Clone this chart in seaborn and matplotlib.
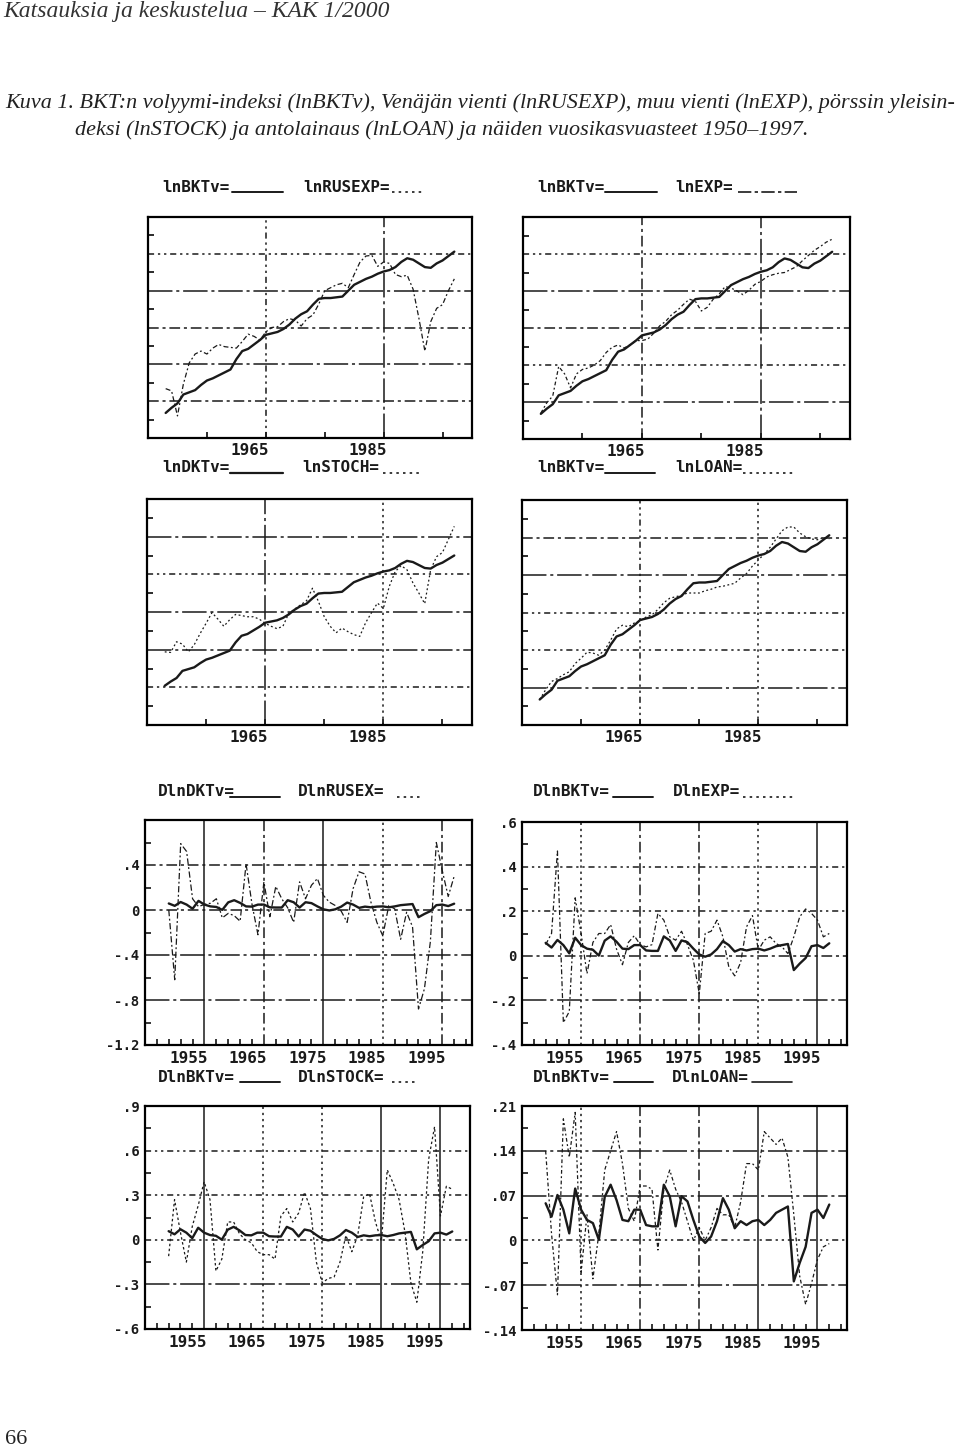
import matplotlib
matplotlib.use("Agg")
import matplotlib.pyplot as plt
import matplotlib.transforms as mtrans
from matplotlib.lines import Line2D
import numpy as np
import seaborn as sns

sns.set_theme(style="white")
plt.rcParams['font.family'] = ['DejaVu Sans']

# ---------------- data ----------------
years_lvl = list(range(1948, 1998))
years_gr = list(range(1949, 1998))

lnBKTv = [2.34, 2.41, 2.47, 2.59, 2.62, 2.65, 2.72, 2.78, 2.81, 2.85,
          2.89, 2.93, 3.07, 3.18, 3.21, 3.27, 3.33, 3.40, 3.42, 3.44,
          3.48, 3.54, 3.62, 3.68, 3.72, 3.81, 3.89, 3.90, 3.90, 3.91,
          3.92, 4.00, 4.08, 4.12, 4.16, 4.19, 4.23, 4.26, 4.28, 4.32,
          4.39, 4.44, 4.42, 4.37, 4.32, 4.31, 4.37, 4.41, 4.47, 4.53]
lnRUSEXP = [2.67, 2.64, 2.30, 2.73, 3.02, 3.14, 3.18, 3.14, 3.22, 3.27,
            3.24, 3.23, 3.22, 3.31, 3.41, 3.38, 3.33, 3.44, 3.50, 3.51,
            3.58, 3.62, 3.60, 3.52, 3.62, 3.67, 3.82, 4.00, 4.04, 4.08,
            4.10, 4.04, 4.22, 4.39, 4.47, 4.48, 4.33, 4.39, 4.37, 4.22,
            4.19, 4.21, 4.02, 3.62, 3.18, 3.58, 3.76, 3.81, 4.00, 4.16]
lnEXP = [2.35, 2.49, 2.58, 2.98, 2.88, 2.69, 2.88, 2.94, 2.96, 3.00,
         3.06, 3.17, 3.24, 3.27, 3.23, 3.27, 3.33, 3.33, 3.35, 3.43,
         3.53, 3.59, 3.68, 3.74, 3.82, 3.89, 3.86, 3.73, 3.78, 3.89,
         3.96, 4.06, 4.04, 4.00, 3.95, 4.01, 4.09, 4.13, 4.19, 4.22,
         4.24, 4.25, 4.29, 4.33, 4.41, 4.48, 4.55, 4.60, 4.66, 4.70]
lnSTOCK = [2.91, 2.90, 3.08, 3.04, 2.91, 3.03, 3.22, 3.39, 3.57, 3.46,
           3.34, 3.45, 3.54, 3.52, 3.50, 3.50, 3.46, 3.39, 3.34, 3.30,
           3.34, 3.56, 3.63, 3.70, 3.77, 3.98, 3.76, 3.50, 3.34, 3.23,
           3.31, 3.25, 3.20, 3.17, 3.40, 3.57, 3.73, 3.64, 4.01, 4.26,
           4.36, 4.29, 4.07, 3.90, 3.72, 4.29, 4.51, 4.58, 4.80, 5.02]
lnLOAN = [2.34, 2.47, 2.58, 2.62, 2.67, 2.71, 2.82, 2.89, 2.97, 2.96,
          2.93, 3.00, 3.13, 3.28, 3.33, 3.31, 3.36, 3.39, 3.44, 3.47,
          3.54, 3.63, 3.69, 3.71, 3.73, 3.76, 3.76, 3.76, 3.79, 3.81,
          3.84, 3.85, 3.87, 3.89, 3.96, 4.02, 4.12, 4.20, 4.28, 4.37,
          4.48, 4.59, 4.64, 4.64, 4.56, 4.51, 4.48, 4.47, 4.50, 4.48]

DlnBKTv = [0.058, 0.037, 0.071, 0.048, 0.011, 0.081, 0.048, 0.032, 0.027, 0.001,
           0.068, 0.087, 0.063, 0.032, 0.030, 0.048, 0.048, 0.024, 0.022, 0.022,
           0.087, 0.069, 0.022, 0.069, 0.061, 0.032, 0.006, -0.004, 0.006, 0.030,
           0.066, 0.048, 0.019, 0.030, 0.024, 0.030, 0.032, 0.024, 0.032, 0.043,
           0.048, 0.053, -0.064, -0.035, -0.010, 0.043, 0.048, 0.035, 0.056]
DlnRUSEX = [0.00, -0.62, 0.59, 0.52, 0.10, 0.03, 0.05, 0.06, 0.10, -0.07,
            -0.03, -0.05, -0.10, 0.41, 0.05, -0.22, 0.25, -0.06, 0.21, 0.10,
            0.02, -0.11, 0.25, 0.10, 0.22, 0.28, 0.13, 0.07, 0.04, -0.01,
            -0.11, 0.19, 0.34, 0.32, 0.07, -0.11, -0.23, 0.04, 0.01, -0.26,
            -0.02, -0.15, -0.88, -0.70, -0.28, 0.60, 0.35, 0.12, 0.30]
DlnEXP = [0.05, 0.10, 0.47, -0.30, -0.25, 0.26, 0.10, -0.08, 0.06, 0.10,
          0.10, 0.14, 0.03, -0.04, 0.06, 0.09, 0.05, 0.04, 0.05, 0.19,
          0.16, 0.085, 0.07, 0.11, 0.05, -0.02, -0.17, 0.10, 0.11, 0.16,
          0.085, -0.05, -0.09, -0.03, 0.13, 0.18, 0.025, 0.07, 0.085, 0.055,
          0.04, 0.01, 0.085, 0.175, 0.21, 0.19, 0.16, 0.085, 0.10]
DlnSTOCK = [-0.11, 0.27, 0.05, -0.15, 0.09, 0.23, 0.39, 0.27, -0.21, -0.13,
            0.12, 0.12, 0.04, 0.00, -0.02, -0.08, -0.10, -0.10, -0.13, 0.16,
            0.21, 0.12, 0.18, 0.32, 0.21, -0.15, -0.29, -0.26, -0.25, -0.15,
            0.03, -0.08, 0.03, 0.29, 0.31, 0.12, -0.01, 0.47, 0.38, 0.27,
            0.05, -0.29, -0.42, -0.08, 0.54, 0.76, 0.16, 0.36, 0.34]
DlnLOAN = [0.14, 0.01, -0.085, 0.19, 0.13, 0.20, -0.05, 0.04, -0.06, 0.01,
           0.11, 0.14, 0.17, 0.12, 0.05, 0.03, 0.085, 0.085, 0.08, -0.015,
           0.08, 0.11, 0.08, 0.06, 0.03, 0.00, 0.02, 0.00, 0.02, 0.05,
           0.04, 0.04, 0.02, 0.06, 0.12, 0.12, 0.11, 0.17, 0.16, 0.15,
           0.16, 0.13, 0.04, -0.056, -0.10, -0.067, -0.03, -0.01, -0.005]

# axis settings
ylim_p1, ylim_p2, ylim_p3, ylim_p4 = (2.0, 5.0), (2.0, 5.0), (1.68, 5.48), (2.0, 5.0)
yt_p5 = [-1.2, -0.8, -0.4, 0.0, 0.4];  ytl_p5 = ["-1.2", "-.8", "-.4", "0", ".4"]
yt_p6 = [-0.4, -0.2, 0.0, 0.2, 0.4, 0.6]; ytl_p6 = ["-.4", "-.2", "0", ".2", ".4", ".6"]
yt_p7 = [-0.6, -0.3, 0.0, 0.3, 0.6, 0.9]; ytl_p7 = ["-.6", "-.3", "0", ".3", ".6", ".9"]
yt_p8 = [-0.14, -0.07, 0.0, 0.07, 0.14, 0.21]; ytl_p8 = ["-.14", "-.07", "0", ".07", ".14", ".21"]
decades = [1955, 1965, 1975, 1985, 1995]

# ---------------- figure ----------------
W, H = 960, 1454
fig = plt.figure(figsize=(W / 100, H / 100), dpi=100)
fig.patch.set_facecolor('white')

MONO = ['DejaVu Sans Mono']
SERIF = ['Liberation Serif', 'DejaVu Serif']

DD = (0, (4, 2.5, 1.5, 2.5, 1.5, 2.5))   # dash-dot-dot
DL = (0, (16, 2.5, 2, 2.5))               # long dash-dot
DA = (0, (7, 2.5, 2, 2.5))                # dash-dot
DT = (0, (1.5, 2.5))                      # dotted
SO = '-'

lab_off = mtrans.ScaledTranslation(-16 / 100, 0, fig.dpi_scale_trans)


def make_ax(l, t, r, b):
    ax = fig.add_axes([l / W, 1 - b / H, (r - l) / W, (b - t) / H])
    ax.set_facecolor('white')
    for s in ax.spines.values():
        s.set_visible(True)
        s.set_color('black')
        s.set_linewidth(1.6)
    ax.set_xlim(1945, 2000)
    return ax


def style_xlabels(ax):
    for lab in ax.get_xticklabels():
        lab.set_fontfamily(MONO)
        lab.set_fontweight('bold')
        lab.set_fontsize(11.5)
        lab.set_transform(lab.get_transform() + lab_off)


def level_panel(ax, other, other_ls, ylim, hstyles, vstyles):
    lo, hi = ylim
    ax.set_ylim(lo, hi)
    for k, st in zip(range(5, 0, -1), hstyles):
        ax.axhline(lo + k * (hi - lo) / 6, color='k', lw=1.1, linestyle=st, zorder=1)
    for xv, st in zip([1965, 1985], vstyles):
        ax.axvline(xv, color='k', lw=1.1, linestyle=st, zorder=1)
    sns.lineplot(x=years_lvl, y=lnBKTv, ax=ax, color='k', lw=1.7, zorder=3)
    sns.lineplot(x=years_lvl, y=other, ax=ax, color='k', lw=0.9,
                 linestyle=other_ls, zorder=3)
    ax.set_xlabel('')
    ax.set_ylabel('')
    ax.set_xticks(decades)
    ax.set_xticklabels(['', '1965', '', '1985', ''])
    ax.set_yticks(lo + (np.arange(6) + 0.5) * (hi - lo) / 6)
    ax.set_yticklabels([])
    ax.tick_params(direction='in', length=4, width=1.3, left=True, bottom=True,
                   pad=3.5, colors='k')
    style_xlabels(ax)


def growth_panel(ax, other, other_ls, yt, ytl, ylim, hstyles, vstyles):
    lo, hi = ylim
    ax.set_ylim(lo, hi)
    grid_vals = [v for v in yt if lo < v < hi]
    for v, st in zip(grid_vals, hstyles):
        ax.axhline(v, color='k', lw=1.1, linestyle=st, zorder=1)
    for xv, st in zip(decades, vstyles):
        ax.axvline(xv, color='k', lw=1.1, linestyle=st, zorder=1)
    sns.lineplot(x=years_gr, y=DlnBKTv, ax=ax, color='k', lw=1.7, zorder=3)
    sns.lineplot(x=years_gr, y=other, ax=ax, color='k', lw=0.9,
                 linestyle=other_ls, zorder=3)
    ax.set_xlabel('')
    ax.set_ylabel('')
    ax.set_xticks(decades)
    ax.set_xticklabels([str(d) for d in decades])
    ax.set_xticks(list(range(1947, 2000, 2)), minor=True)
    ax.set_yticks(yt)
    ax.set_yticklabels(ytl)
    step = yt[1] - yt[0]
    ax.set_yticks(np.arange(lo + step / 2, hi, step), minor=True)
    ax.tick_params(which='major', length=0, pad=4, colors='k')
    ax.tick_params(which='minor', direction='in', length=4, width=1.3,
                   left=True, bottom=True)
    for lab in ax.get_yticklabels():
        lab.set_fontfamily(MONO)
        lab.set_fontweight('bold')
        lab.set_fontsize(10)
    style_xlabels(ax)


def legend(y, items):
    for text, tx, lx0, lx1, ls, lw in items:
        fig.text(tx / W, 1 - y / H, text, ha='left', va='center',
                 family=MONO, weight='bold', fontsize=11.5, color='k')
        fig.add_artist(Line2D([lx0 / W, lx1 / W], [1 - (y + 5) / H] * 2,
                              transform=fig.transFigure, color='k', lw=lw,
                              linestyle=ls))


# ---- panels ----
p1 = make_ax(148, 217, 472, 438)
level_panel(p1, lnRUSEXP, (0, (4, 2, 1.5, 2)), ylim_p1, [DD, DL, DA, DL, DA], [DD, DL])
p2 = make_ax(523, 217, 850, 439)
level_panel(p2, lnEXP, (0, (3, 2, 1.5, 2)), ylim_p2, [DD, DL, DA, DD, DL], [DA, DL])
p3 = make_ax(147, 499, 472, 725)
level_panel(p3, lnSTOCK, (0, (1.5, 2)), ylim_p3, [DL, DD, DL, DL, DD], [DL, DT])
p4 = make_ax(522, 500, 847, 725)
level_panel(p4, lnLOAN, (0, (1.5, 2)), ylim_p4, [DA, DL, DD, DD, DL], [DD, DT])

p5 = make_ax(145, 820, 472, 1045)
growth_panel(p5, DlnRUSEX, (0, (5, 2, 1.5, 2)), yt_p5, ytl_p5, (-1.2, 0.8),
             [DL, DL, DA, DA], [SO, DA, SO, DT, DA])
p6 = make_ax(522, 822, 847, 1045)
growth_panel(p6, DlnEXP, (0, (4, 2, 1.5, 2)), yt_p6, ytl_p6, (-0.4, 0.6),
             [DL, DA, DD, DD], [DT, DA, DA, DT, SO])
p7 = make_ax(145, 1106, 470, 1329)
growth_panel(p7, DlnSTOCK, (0, (2, 2)), yt_p7, ytl_p7, (-0.6, 0.9),
             [DL, DD, DD, DD], [SO, DT, DT, SO, SO])
p8 = make_ax(522, 1106, 847, 1330)
growth_panel(p8, DlnLOAN, (0, (3, 2, 1.5, 2)), yt_p8, ytl_p8, (-0.14, 0.21),
             [DL, DD, DL, DL], [DT, DA, DA, SO, SO])

# ---- legends ----
legend(187, [("lnBKTv=", 162, 232, 283, SO, 1.4), ("lnRUSEXP=", 303, 392, 422, DT, 1.2)])
legend(187, [("lnBKTv=", 537, 605, 657, SO, 1.4), ("lnEXP=", 675, 738, 797, (0, (8, 2, 2, 2)), 1.2)])
legend(468, [("lnDKTv=", 162, 230, 283, SO, 1.6), ("lnSTOCH=", 302, 383, 420, DT, 1.2)])
legend(468, [("lnBKTv=", 537, 605, 655, SO, 1.4), ("lnLOAN=", 675, 743, 795, DT, 1.2)])
legend(792, [("DlnDKTv=", 158, 230, 280, SO, 1.4), ("DlnRUSEX=", 298, 397, 420, DT, 1.2)])
legend(792, [("DlnBKTv=", 533, 613, 653, SO, 1.4), ("DlnEXP=", 673, 743, 795, DT, 1.2)])
legend(1077, [("DlnBKTv=", 158, 240, 280, SO, 1.4), ("DlnSTOCK=", 298, 392, 418, DT, 1.2)])
legend(1077, [("DlnBKTv=", 533, 614, 653, SO, 1.4), ("DlnLOAN=", 672, 752, 792, SO, 1.2)])

# ---- page texts ----
fig.text(3 / W, 1 - 12 / H, "Katsauksia ja keskustelua \u2013 KAK 1/2000",
         ha='left', va='center', family=SERIF, style='italic', fontsize=17,
         color='#333333')
fig.text(5 / W, 1 - 103 / H,
         "Kuva 1. BKT:n volyymi-indeksi (lnBKTv), Ven\u00e4j\u00e4n vienti (lnRUSEXP), "
         "muu vienti (lnEXP), p\u00f6rssin yleisin-",
         ha='left', va='center', family=SERIF, style='italic', fontsize=15.9,
         color='#222222')
fig.text(75 / W, 1 - 130 / H,
         "deksi (lnSTOCK) ja antolainaus (lnLOAN) ja n\u00e4iden vuosikasvuasteet 1950\u20131997.",
         ha='left', va='center', family=SERIF, style='italic', fontsize=15.9,
         color='#222222')
fig.text(5 / W, 1 - 1440 / H, "66", ha='left', va='center', family=SERIF,
         fontsize=16, color='#222222')

fig.savefig("out.png", dpi=100, facecolor='white')
